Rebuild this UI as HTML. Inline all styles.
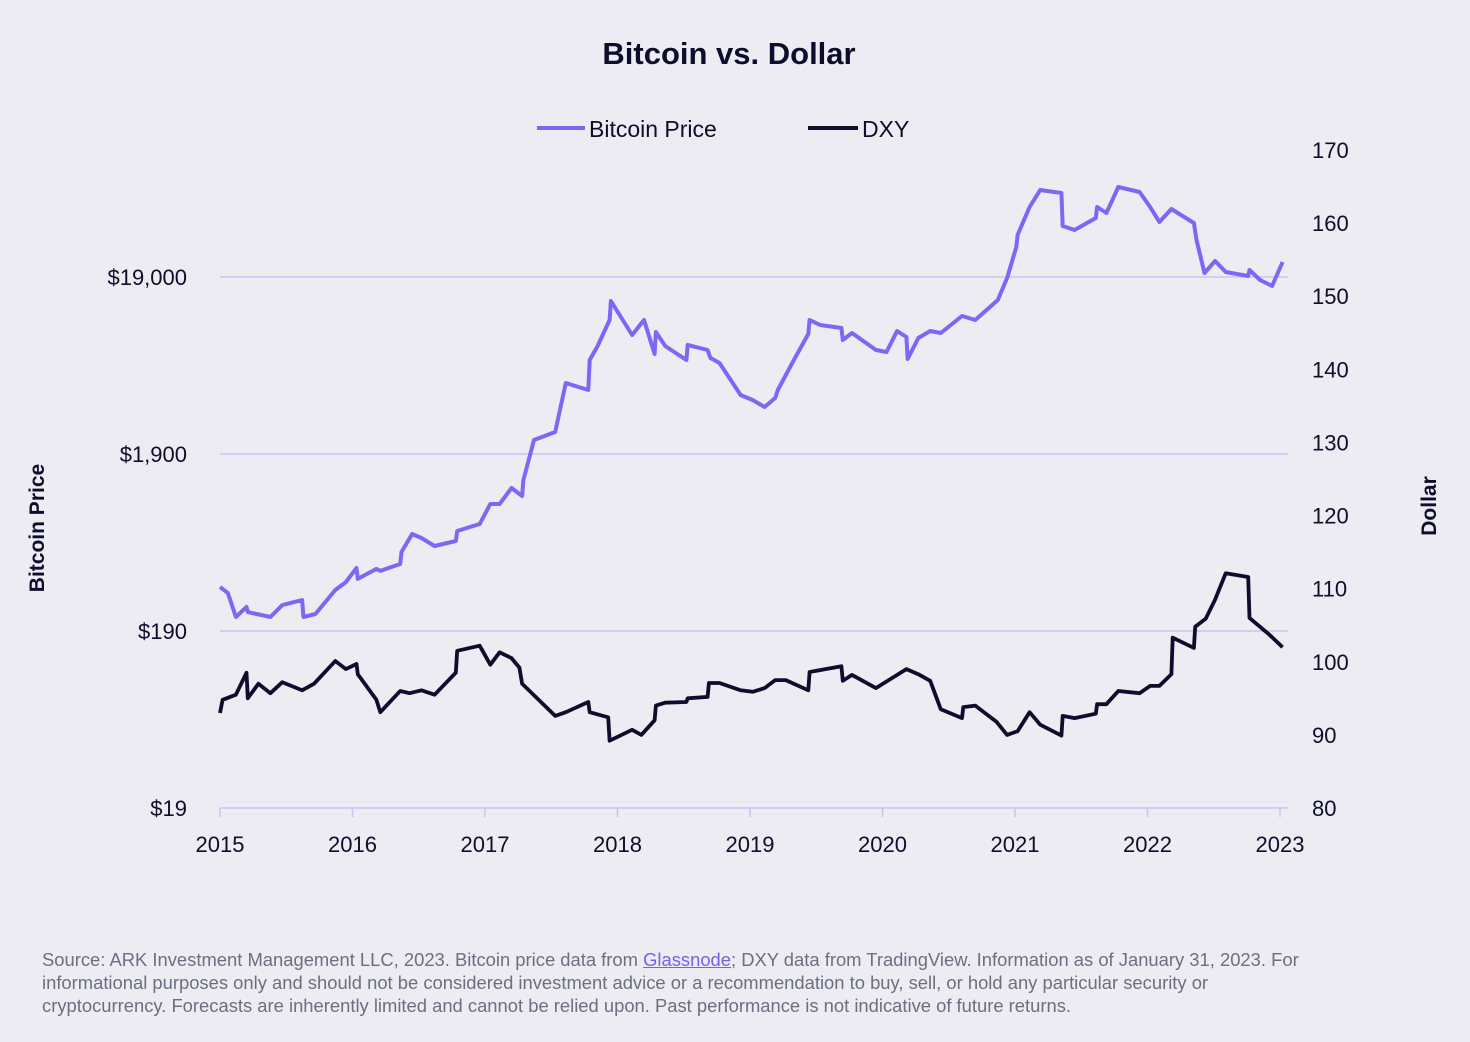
<!DOCTYPE html>
<html><head><meta charset="utf-8">
<style>
body{margin:0;background:#ececf2;}
#wrap{position:relative;width:1470px;height:1042px;background:#ececf2;font-family:"Liberation Sans",sans-serif;color:#0e0e2c;overflow:hidden}
.foot{position:absolute;left:42px;top:948px;width:1275px;font-size:18.4px;line-height:23px;color:#6e6e82}
.foot a{color:#7b5cf5;text-decoration:underline}
</style></head><body>
<div id="wrap">
<svg id="chart" width="1470" height="1042"></svg>
<div class="foot">Source: ARK Investment Management LLC, 2023. Bitcoin price data from <a>Glassnode</a>; DXY data from TradingView. Information as of January 31, 2023. For informational purposes only and should not be considered investment advice or a recommendation to buy, sell, or hold any particular security or cryptocurrency. Forecasts are inherently limited and cannot be relied upon. Past performance is not indicative of future returns.</div>
</div>
<script>
const years=[2015,2016,2017,2018,2019,2020,2021,2022,2023];
const leftTicks=[19,190,1900,19000];
const leftTickLabels=["$19","$190","$1,900","$19,000"];
const rightTicks=[80,90,100,110,120,130,140,150,160,170];
const btcDates=[2015.0,2015.06,2015.12,2015.20,2015.21,2015.38,2015.47,2015.62,2015.63,2015.72,2015.87,2015.95,2016.03,2016.04,2016.18,2016.21,2016.36,2016.37,2016.45,2016.52,2016.62,2016.78,2016.79,2016.96,2017.04,2017.11,2017.20,2017.28,2017.29,2017.37,2017.53,2017.61,2017.78,2017.79,2017.85,2017.94,2017.95,2018.11,2018.20,2018.28,2018.29,2018.36,2018.52,2018.53,2018.68,2018.70,2018.77,2018.93,2019.02,2019.11,2019.19,2019.21,2019.34,2019.44,2019.45,2019.53,2019.69,2019.70,2019.77,2019.95,2020.03,2020.11,2020.18,2020.19,2020.27,2020.36,2020.44,2020.60,2020.70,2020.87,2020.94,2021.01,2021.02,2021.11,2021.19,2021.35,2021.36,2021.45,2021.61,2021.62,2021.69,2021.78,2021.94,2022.02,2022.09,2022.18,2022.35,2022.37,2022.43,2022.51,2022.59,2022.76,2022.77,2022.85,2022.94,2023.02];
const btcPrices=[337,311,228,260,243,228,266,284,228,237,324,359,431,374,426,415,454,531,671,637,574,613,698,764,992,992,1221,1100,1355,2281,2530,4785,4370,6457,7740,10857,13900,8930,10857,6980,9290,7740,6457,7850,7350,6630,6210,4090,3835,3500,3935,4370,6630,9050,10857,10180,9790,8375,9170,7350,7160,9410,8710,6540,8590,9410,9170,11440,10857,14080,18760,28060,32800,47240,58920,56680,36880,35020,40930,47240,43680,61270,57380,47240,38850,46000,38340,30740,20010,23390,20270,19240,20810,18280,16890,23100];
const dxyDates=[2015.0,2015.02,2015.05,2015.12,2015.20,2015.21,2015.29,2015.38,2015.47,2015.62,2015.71,2015.87,2015.95,2016.03,2016.04,2016.18,2016.21,2016.36,2016.43,2016.52,2016.62,2016.78,2016.79,2016.96,2017.04,2017.11,2017.20,2017.26,2017.28,2017.53,2017.61,2017.78,2017.79,2017.93,2017.94,2018.11,2018.18,2018.28,2018.29,2018.36,2018.52,2018.53,2018.68,2018.69,2018.77,2018.93,2019.02,2019.11,2019.19,2019.27,2019.44,2019.45,2019.69,2019.70,2019.77,2019.95,2020.18,2020.27,2020.36,2020.44,2020.60,2020.61,2020.70,2020.86,2020.94,2021.02,2021.11,2021.19,2021.35,2021.36,2021.45,2021.61,2021.62,2021.69,2021.78,2021.94,2022.02,2022.09,2022.18,2022.19,2022.35,2022.36,2022.44,2022.51,2022.59,2022.76,2022.77,2022.92,2023.02];
const dxyValues=[93.0,94.8,95.0,95.5,98.5,95.0,97.0,95.7,97.2,96.1,97.0,100.1,99.0,99.7,98.3,94.8,93.1,96.0,95.7,96.1,95.5,98.5,101.5,102.2,99.6,101.3,100.5,99.2,97.0,92.6,93.1,94.5,93.1,92.4,89.2,90.7,90.0,92.0,94.0,94.4,94.5,95.0,95.2,97.1,97.1,96.1,95.9,96.4,97.5,97.5,96.1,98.6,99.4,97.4,98.2,96.4,99.0,98.3,97.4,93.5,92.3,93.8,94.0,91.8,90.0,90.5,93.1,91.4,89.9,92.6,92.3,92.9,94.2,94.2,96.0,95.7,96.7,96.7,98.3,103.3,101.9,104.8,105.9,108.5,112.1,111.6,106.0,103.7,102.0];

const NS="http://www.w3.org/2000/svg";
const svg=document.getElementById('chart');
const X0=220,X1=1280,Y0=808;
const xS=d=>X0+(d-2015)*(X1-X0)/8;
const yL=v=>Y0-Math.log10(v/19)*177;
const yR=v=>Y0-(v-80)*(808-150)/90;
function mk(tag,attrs,txt){const e=document.createElementNS(NS,tag);for(const k in attrs)e.setAttribute(k,attrs[k]);if(txt!==undefined)e.textContent=txt;svg.appendChild(e);return e;}

let t=mk('text',{x:729,y:64,'text-anchor':'middle','font-size':31,'font-weight':'bold',fill:'#0e0e2c'},'Bitcoin vs. Dollar');



let l1=mk('line',{x1:537,y1:128,x2:585,y2:128,stroke:'#7f66f5','stroke-width':4});


let lt1=mk('text',{x:589,y:137,'font-size':23,fill:'#0e0e2c'},'Bitcoin Price');


let l2=mk('line',{x1:808,y1:128,x2:858,y2:128,stroke:'#0e0e2c','stroke-width':4});


let lt2=mk('text',{x:862,y:137,'font-size':23,fill:'#0e0e2c'},'DXY');



leftTicks.forEach((v,i)=>{
  const y=yL(v);
  if(i>0){const g=mk('line',{x1:X0,y1:y,x2:1288,y2:y,stroke:'#c9c3f3','stroke-width':1.5});
    
    }
  const tx=mk('text',{x:187,y:y+8,'text-anchor':'end','font-size':22,fill:'#0e0e2c'},leftTickLabels[i]);
  
  
});
rightTicks.forEach(v=>{
  const tx=mk('text',{x:1312,y:yR(v)+8,'font-size':22,fill:'#0e0e2c'},String(v));
  
  
});
let ax=mk('line',{x1:X0,y1:Y0,x2:1288,y2:Y0,stroke:'#c9c3f3','stroke-width':1.5});


years.forEach(yr=>{
  const x=xS(yr);
  const tk=mk('line',{x1:x,y1:Y0,x2:x,y2:Y0+9,stroke:'#c9c3f3','stroke-width':1.5});
  
  
  const tx=mk('text',{x:x,y:852,'text-anchor':'middle','font-size':22,fill:'#0e0e2c'},String(yr));
  
  
});
let yt=mk('text',{x:0,y:0,transform:'translate(44,528) rotate(-90)','text-anchor':'middle','font-size':21,'font-weight':'bold',fill:'#0e0e2c'},'Bitcoin Price');


let yt2=mk('text',{x:0,y:0,transform:'translate(1436,506) rotate(-90)','text-anchor':'middle','font-size':21,'font-weight':'bold',fill:'#0e0e2c'},'Dollar');



let p1=mk('path',{d:btcDates.map((d,i)=>(i?'L':'M')+xS(d).toFixed(1)+','+yL(btcPrices[i]).toFixed(1)).join(''),fill:'none',stroke:'#7f66f5','stroke-width':4,'stroke-linejoin':'round'});


let p2=mk('path',{d:dxyDates.map((d,i)=>(i?'L':'M')+xS(d).toFixed(1)+','+yR(dxyValues[i]).toFixed(1)).join(''),fill:'none',stroke:'#0e0e2c','stroke-width':3.8,'stroke-linejoin':'round'});


</script>
</body></html>
